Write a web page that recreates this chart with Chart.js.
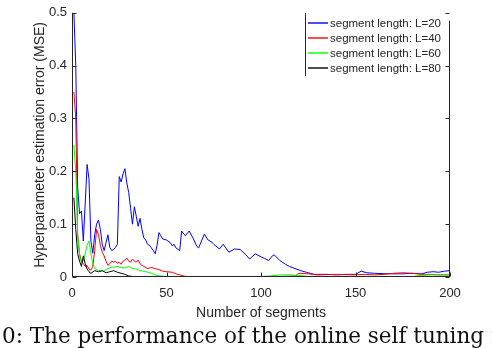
<!DOCTYPE html>
<html>
<head>
<meta charset="utf-8">
<script src="https://cdn.jsdelivr.net/npm/chart.js@4.4.0/dist/chart.umd.min.js"></script>
<style>
  html, body { margin: 0; padding: 0; background: #fff; overflow: hidden; }
  #wrap { position: relative; width: 492px; height: 348px; overflow: hidden; }
  #mse { position: absolute; left: 0; top: 0; }
  #caption {
    position: absolute; left: 2px; top: 323px;
    font: 21.5px "DejaVu Serif", serif; color: #111;
    white-space: nowrap; line-height: 26px;
  }
</style>
</head>
<body>
<div id="wrap">
  <canvas id="mse" width="492" height="348"></canvas>
  <div id="caption">0: The performance of the online self tuning method</div>
</div>
<script>
//DATA
const segL20 = [1,2,3,4,5,6,7,8,9,10,11,12,13,14,15,16,17,18,19,20,21,22,23,24,25,26,27,28,29,30,
  31,32,33,34,35,36,37,38,39,40,41,42,43,44,45,46,47,48,50,52,53,54,55,57,58,60,62,64,66,67,
  70,72,74,75,78,80,83,86,89,92,94,97,100,102,104,106,107,110,113,115,118,121,124,128,135,140,145,150,153,156,
  160,168,175,180,185,188,191,194,197,200];
const mseL20 = [0.5,0.4,0.17,0.12,0.125,0.068,0.14,0.213,0.185,0.068,0.045,0.08,0.1,0.108,0.09,0.062,0.05,0.065,0.08,0.056,
  0.05,0.052,0.056,0.062,0.19,0.18,0.195,0.205,0.178,0.16,0.13,0.1,0.133,0.115,0.096,0.111,0.09,0.074,0.07,0.062,
  0.06,0.055,0.05,0.044,0.06,0.084,0.078,0.072,0.07,0.065,0.059,0.062,0.055,0.05,0.087,0.078,0.087,0.074,0.058,0.055,
  0.081,0.07,0.066,0.062,0.053,0.062,0.047,0.053,0.052,0.042,0.034,0.044,0.038,0.035,0.031,0.04,0.042,0.031,0.024,0.02,
  0.016,0.012,0.009,0.005,0.005,0.004,0.005,0.005,0.011,0.008,0.007,0.006,0.006,0.007,0.006,0.009,0.01,0.009,0.011,0.012];

const segL40 = [1,2,3,4,5,6,7,8,9,10,11,12,13,14,15,16,17,18,19,20,21,22,23,24,25,26,27,28,29,30,
  31,32,33,34,35,36,37,38,40,42,44,46,48,50,53,55,57,60,70,80,90,100,110,118,120,125,130,140,150,155,
  160,165,170,175,180,185,190,195,200];
const mseL40 = [0.35,0.3,0.08,0.044,0.03,0.025,0.02,0.022,0.015,0.013,0.02,0.05,0.09,0.08,0.06,0.047,0.04,0.03,0.022,0.025,
  0.03,0.028,0.03,0.026,0.028,0.024,0.03,0.032,0.036,0.03,0.028,0.034,0.03,0.028,0.032,0.025,0.022,0.02,0.016,0.018,
  0.016,0.014,0.011,0.01,0.009,0.006,0.004,0.001,0.001,0.001,0.001,0.001,0.001,0.002,0.007,0.006,0.004,0.005,0.004,0.005,
  0.004,0.005,0.007,0.008,0.007,0.005,0.005,0.004,0.004];

const segL60 = [1,2,3,4,5,6,7,8,9,10,11,12,13,14,15,16,17,18,19,20,21,22,24,26,28,30,32,34,36,38,
  40,42,44,46,50,60,70,80,90,100,105,110,115,120,125,140,160,180,185,190,200];
const mseL60 = [0.25,0.2,0.08,0.04,0.028,0.03,0.045,0.06,0.068,0.044,0.025,0.016,0.014,0.012,0.013,0.011,0.012,0.014,0.016,0.017,
  0.019,0.018,0.02,0.018,0.017,0.02,0.016,0.015,0.012,0.011,0.009,0.007,0.004,0.002,0.001,0.001,0.001,0.001,0.001,0.001,
  0.002,0.004,0.004,0.003,0.001,0.001,0.001,0.001,0.003,0.004,0.004];

const segL80 = [1,2,3,4,5,6,7,8,9,10,12,14,16,18,20,22,24,26,28,30,32,50,100,150,200];
const mseL80 = [0.15,0.09,0.044,0.03,0.02,0.04,0.025,0.015,0.01,0.007,0.012,0.01,0.012,0.008,0.01,0.012,0.009,0.007,0.005,0.002,
  0.001,0.0005,0.0005,0.0005,0.0005];

const seriesLabels = ['segment length: L=20', 'segment length: L=40', 'segment length: L=60', 'segment length: L=80'];
const seriesColors = ['#0000ff', '#ff0000', '#00ff00', '#000000'];

const xTicks = [0, 50, 100, 150, 200];
const yTicks = [0, 0.1, 0.2, 0.3, 0.4, 0.5];

//HTML
const html__canvas__chart = document.querySelector('#mse');
const AXIS_COLOR = '#262626';

function ToPoints(_xs, _ys){
    return _xs.map((x, i) => ({x: x, y: _ys[i]}));
}

function MakeDataset(_idx, _xs, _ys){
    return {
        label: seriesLabels[_idx],
        data: ToPoints(_xs, _ys),
        borderColor: seriesColors[_idx],
        backgroundColor: seriesColors[_idx],
        borderWidth: 1,
        pointRadius: 0,
        tension: 0,
        order: 4 - _idx   // later series drawn on top, like matlab
    };
}

//axes box + inward ticks + legend
const boxPlugin = {
    id: 'box',
    afterDraw(chart){
        const ctx = chart.ctx;
        const a = chart.chartArea;
        const xs = chart.scales.x, ys = chart.scales.y;
        const L = Math.round(a.left) + 0.5, R = Math.round(a.right) - 0.5, B = Math.round(a.bottom) - 0.5;
        ctx.save();
        ctx.strokeStyle = AXIS_COLOR;
        ctx.lineWidth = 1;
        ctx.beginPath();
        ctx.moveTo(L, a.top); ctx.lineTo(L, B); ctx.lineTo(R, B);
        ctx.moveTo(R, a.top + 8); ctx.lineTo(R, B);
        xTicks.forEach(v => {
            const px = Math.round(xs.getPixelForValue(v)) + 0.5;
            ctx.moveTo(px, B); ctx.lineTo(px, B - 4);
        });
        yTicks.forEach(v => {
            const py = Math.round(ys.getPixelForValue(v)) + 0.5;
            ctx.moveTo(L, py); ctx.lineTo(L + 4, py);
            ctx.moveTo(R, py); ctx.lineTo(R - 4, py);
        });
        ctx.stroke();

        const lx = 305.5, ly = 22.5, step = 15.3;
        ctx.beginPath();
        ctx.moveTo(lx, 13); ctx.lineTo(lx, 76);
        ctx.stroke();
        ctx.font = '11.5px "Liberation Sans", Arial, sans-serif';
        ctx.textBaseline = 'middle';
        chart.data.datasets.forEach((ds, i) => {
            const y = Math.round(ly + i * step);
            ctx.strokeStyle = ds.borderColor;
            ctx.lineWidth = 1.4;
            ctx.beginPath();
            ctx.moveTo(308, y); ctx.lineTo(328, y);
            ctx.stroke();
            ctx.fillStyle = AXIS_COLOR;
            ctx.fillText(ds.label, 330, y + 1);
        });
        ctx.restore();
    }
};

const chart_data = {
    datasets: [
        MakeDataset(0, segL20, mseL20),
        MakeDataset(1, segL40, mseL40),
        MakeDataset(2, segL60, mseL60),
        MakeDataset(3, segL80, mseL80)
    ]
};

const config = {
    type: 'line',
    data: chart_data,
    options: {
        responsive: false,
        animation: false,
        layout: { padding: { left: 0, top: 6, right: 42, bottom: 25 } },
        plugins: {
            legend: { display: false },
            tooltip: { enabled: false }
        },
        scales: {
            x: {
                type: 'linear',
                min: 0, max: 200,
                afterBuildTicks: s => { s.ticks = xTicks.map(v => ({value: v})); },
                afterFit: s => { s.height = 46; },
                grid: { display: false, drawTicks: false },
                border: { display: false },
                ticks: { padding: 9, color: AXIS_COLOR, font: { family: '"Liberation Sans", Arial', size: 13 } },
                title: {
                    display: true, text: 'Number of segments', color: AXIS_COLOR,
                    padding: { top: 0, bottom: 1 },
                    font: { family: '"Liberation Sans", Arial', size: 14 }
                }
            },
            y: {
                min: 0, max: 0.5,
                afterBuildTicks: s => { s.ticks = yTicks.map(v => ({value: v})); },
                afterFit: s => { s.width = 72; },
                grid: { display: false, drawTicks: false },
                border: { display: false },
                ticks: { padding: 5, color: AXIS_COLOR, font: { family: '"Liberation Sans", Arial', size: 13 } },
                title: {
                    display: true, text: 'Hyperparameter estimation error (MSE)', color: AXIS_COLOR,
                    padding: { top: 32, bottom: 0 },
                    font: { family: '"Liberation Sans", Arial', size: 14 }
                }
            }
        }
    },
    plugins: [boxPlugin]
};

let lineChart = new Chart(html__canvas__chart, config);
</script>
</body>
</html>
